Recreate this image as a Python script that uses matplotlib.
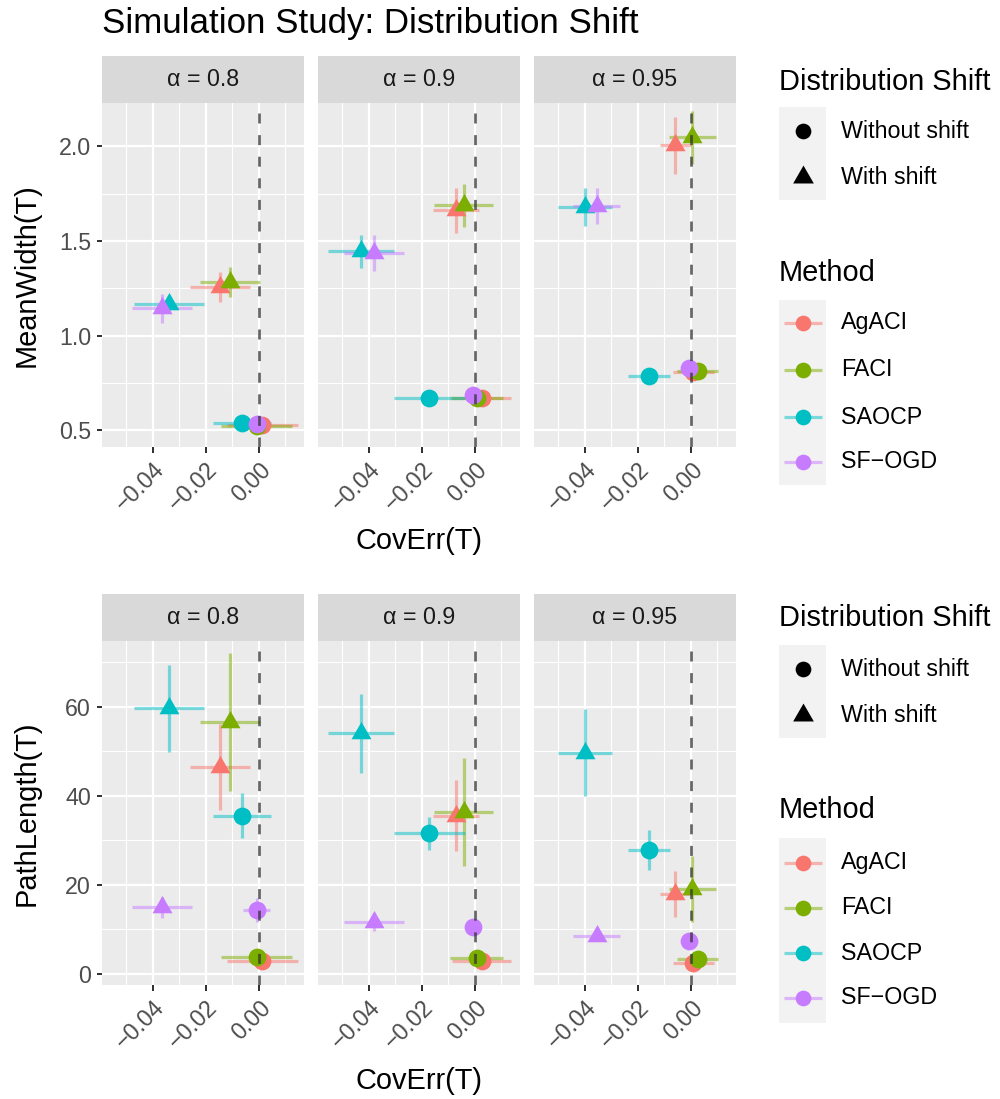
import matplotlib
matplotlib.use("Agg")
import matplotlib.pyplot as plt
from matplotlib.patches import Rectangle
from matplotlib.path import Path
import numpy as np

plt.rcParams['font.family'] = ['Liberation Sans', 'DejaVu Sans']

# ---------------- data ----------------
alphas = ["0.8", "0.9", "0.95"]
methods = ["AgACI", "FACI", "SAOCP", "SF\u2212OGD"]
shifts = ["Without shift", "With shift"]
colors = ["#F8766D", "#7CAE00", "#00BFC4", "#C77CFF"]

# rows: alpha, cols: method
cov_wo = [[0.0013, -0.0009, -0.0064, -0.0009],
          [0.0025, 0.0006, -0.0172, -0.0009],
          [0.0009, 0.0025, -0.0158, -0.0008]]
cov_wo_err = [[0.0134, 0.0133, 0.0111, 0.0051],
              [0.0112, 0.0100, 0.0135, 0.0020],
              [0.0078, 0.0077, 0.0078, 0.0020]]
cov_w = [[-0.0146, -0.0109, -0.0340, -0.0365],
         [-0.0072, -0.0042, -0.0430, -0.0380],
         [-0.0059, 0.0005, -0.0399, -0.0356]]
cov_w_err = [[0.0113, 0.0113, 0.0132, 0.0112],
             [0.0088, 0.0112, 0.0124, 0.0113],
             [0.0058, 0.0088, 0.0102, 0.0090]]

mw_wo = [[0.526, 0.523, 0.540, 0.535],
         [0.673, 0.671, 0.669, 0.685],
         [0.808, 0.813, 0.785, 0.831]]
mw_wo_err = [[0.010, 0.010, 0.012, 0.012],
             [0.010, 0.010, 0.012, 0.015],
             [0.012, 0.012, 0.012, 0.030]]
mw_w = [[1.257, 1.285, 1.169, 1.144],
        [1.662, 1.688, 1.445, 1.437],
        [2.005, 2.049, 1.680, 1.685]]
mw_w_err = [[0.080, 0.080, 0.045, 0.077],
            [0.120, 0.115, 0.087, 0.095],
            [0.150, 0.140, 0.100, 0.095]]

pl_wo = [[2.9, 3.7, 35.5, 14.2],
         [2.9, 3.6, 31.5, 10.4],
         [2.3, 3.4, 27.8, 7.3]]
pl_wo_err = [[0.5, 0.5, 5.1, 2.7],
             [0.5, 0.5, 3.6, 1.0],
             [0.5, 0.5, 4.4, 1.0]]
pl_w = [[46.5, 56.6, 59.6, 14.9],
        [35.5, 36.3, 54.0, 11.5],
        [17.9, 19.0, 49.7, 8.5]]
pl_w_err = [[9.7, 15.5, 9.7, 2.4],
            [8.0, 12.2, 8.9, 2.0],
            [5.1, 7.4, 9.7, 1.2]]

x_ticks = [-0.04, -0.02, 0.00]
x_ticklabels = ["\u22120.04", "\u22120.02", "0.00"]
x_minor = [-0.05, -0.03, -0.01, 0.01]
mw_ticks = [0.5, 1.0, 1.5, 2.0]
mw_ticklabels = ["0.5", "1.0", "1.5", "2.0"]
mw_minor = [0.75, 1.25, 1.75]
pl_ticks = [0, 20, 40, 60]
pl_ticklabels = ["0", "20", "40", "60"]
pl_minor = [10, 30, 50, 70]

# ---------------- layout ----------------
W, H = 1000, 1099
fig = plt.figure(figsize=(W / 100, H / 100), dpi=100)
fig.patch.set_facecolor("white")

BASE = 20.9
SMALL = BASE * 0.8
PX = 0.72  # pt per px

# equilateral triangle marker (centroid centred)
tri = Path([(0, 0.577), (-0.5, -0.289), (0.5, -0.289), (0, 0.577)],
           [Path.MOVETO, Path.LINETO, Path.LINETO, Path.CLOSEPOLY])

col_x = [(102, 304), (318, 520), (534, 736)]
rows = [
    dict(strip=(56, 103), panel=(103, 447), xlim=(-0.0592, 0.0170), ylim=(0.412, 2.229),
         y_wo=mw_wo, y_wo_err=mw_wo_err, y_w=mw_w, y_w_err=mw_w_err,
         ticks=mw_ticks, ticklabels=mw_ticklabels, minor=mw_minor,
         ylabel="MeanWidth(T)", ylab_y=275, xlab_y=541),
    dict(strip=(594, 641), panel=(641, 985), xlim=(-0.0592, 0.0170), ylim=(-2.55, 74.76),
         y_wo=pl_wo, y_wo_err=pl_wo_err, y_w=pl_w, y_w_err=pl_w_err,
         ticks=pl_ticks, ticklabels=pl_ticklabels, minor=pl_minor,
         ylabel="PathLength(T)", ylab_y=813, xlab_y=1081),
]


def fig_rect(x0, x1, y0, y1):
    return [x0 / W, 1 - y1 / H, (x1 - x0) / W, (y1 - y0) / H]


for r in rows:
    for ci, (x0, x1) in enumerate(col_x):
        # strip
        sax = fig.add_axes(fig_rect(x0, x1, r["strip"][0], r["strip"][1]))
        sax.set_facecolor("#D9D9D9")
        sax.set_xticks([]); sax.set_yticks([])
        for s in sax.spines.values():
            s.set_visible(False)
        sax.text(0.5, 0.5, "\u03b1 = " + alphas[ci], ha="center", va="center",
                 fontsize=SMALL, color="#1A1A1A", transform=sax.transAxes)

        ax = fig.add_axes(fig_rect(x0, x1, r["panel"][0], r["panel"][1]))
        ax.set_facecolor("#EBEBEB")
        for s in ax.spines.values():
            s.set_visible(False)
        ax.set_xlim(*r["xlim"]); ax.set_ylim(*r["ylim"])
        ax.set_xticks(x_ticks)
        ax.set_xticks(x_minor, minor=True)
        ax.set_yticks(r["ticks"])
        ax.set_yticks(r["minor"], minor=True)
        ax.grid(which="major", color="white", linewidth=2.2 * PX)
        ax.grid(which="minor", color="white", linewidth=1.1 * PX)
        ax.set_axisbelow(True)
        ax.tick_params(which="minor", length=0)
        ax.tick_params(which="major", length=5.5 * PX, width=2.0 * PX, color="#333333",
                       labelcolor="#4D4D4D", labelsize=SMALL, pad=4)
        ax.set_xticklabels(x_ticklabels, rotation=45, ha="right", va="top",
                           rotation_mode="anchor")
        if ci == 0:
            ax.set_yticklabels(r["ticklabels"])
        else:
            ax.tick_params(axis="y", which="major", length=0, labelleft=False)

        # error bars
        for mi in range(4):
            for (cx, cxe, yy, yye) in [
                (cov_wo[ci][mi], cov_wo_err[ci][mi], r["y_wo"][ci][mi], r["y_wo_err"][ci][mi]),
                (cov_w[ci][mi], cov_w_err[ci][mi], r["y_w"][ci][mi], r["y_w_err"][ci][mi]),
            ]:
                ax.plot([cx - cxe, cx + cxe], [yy, yy], color=colors[mi], alpha=0.5,
                        linewidth=3.2 * PX, solid_capstyle="butt", zorder=2)
                ax.plot([cx, cx], [yy - yye, yy + yye], color=colors[mi], alpha=0.5,
                        linewidth=3.2 * PX, solid_capstyle="butt", zorder=2)
        # points
        for mi in range(4):
            ax.plot([cov_wo[ci][mi]], [r["y_wo"][ci][mi]], linestyle="none", marker="o",
                    markersize=12.8, color=colors[mi], markeredgewidth=0, zorder=3)
            ax.plot([cov_w[ci][mi]], [r["y_w"][ci][mi]], linestyle="none", marker=tri,
                    markersize=16.6, color=colors[mi], markeredgewidth=0, zorder=3)
        ax.axvline(0, color="#333333", alpha=0.75, linewidth=2.7 * PX,
                   linestyle=(0, (3.7, 4.3)), zorder=4)

    fig.text(419 / W, 1 - r["xlab_y"] / H, "CovErr(T)", ha="center", va="center",
             fontsize=BASE, color="black")
    fig.text(27 / W, 1 - r["ylab_y"] / H, r["ylabel"], ha="center", va="center",
             rotation=90, fontsize=BASE, color="black")

fig.text(102 / W, 1 - 33 / H, "Simulation Study: Distribution Shift", ha="left",
         va="baseline", fontsize=BASE * 1.2, color="black")

# ---------------- legends ----------------
ov = fig.add_axes([0, 0, 1, 1])
ov.set_xlim(0, W); ov.set_ylim(H, 0); ov.axis("off")

legend_specs = [
    dict(t1=82, box1=(107, 200), items1=(131, 177), t2=273, box2=(300, 485),
         items2=(323, 370, 417, 462)),
    dict(t1=618, box1=(645, 738), items1=(669, 715), t2=810, box2=(838, 1023),
         items2=(863, 908, 953, 998)),
]
for L in legend_specs:
    ov.text(779, L["t1"], "Distribution Shift", ha="left", va="center", fontsize=BASE)
    ov.add_patch(Rectangle((779, L["box1"][0]), 47, L["box1"][1] - L["box1"][0],
                           facecolor="#F2F2F2", edgecolor="none"))
    ov.plot([803], [L["items1"][0]], marker="o", markersize=11.3, color="black",
            linestyle="none", markeredgewidth=0)
    ov.plot([803], [L["items1"][1]], marker=tri, markersize=17.2, color="black",
            linestyle="none", markeredgewidth=0)
    for yy, lab in zip(L["items1"], shifts):
        ov.text(841, yy, lab, ha="left", va="center", fontsize=SMALL)
    ov.text(779, L["t2"], "Method", ha="left", va="center", fontsize=BASE)
    ov.add_patch(Rectangle((779, L["box2"][0]), 47, L["box2"][1] - L["box2"][0],
                           facecolor="#F2F2F2", edgecolor="none"))
    for yy, lab, c in zip(L["items2"], methods, colors):
        ov.plot([784, 822], [yy, yy], color=c, alpha=0.5, linewidth=3.2 * PX,
                solid_capstyle="butt")
        ov.plot([803], [yy], marker="o", markersize=11.3, color=c, linestyle="none",
                markeredgewidth=0)
        ov.text(841, yy, lab, ha="left", va="center", fontsize=SMALL)

fig.savefig("out.png", dpi=100)
